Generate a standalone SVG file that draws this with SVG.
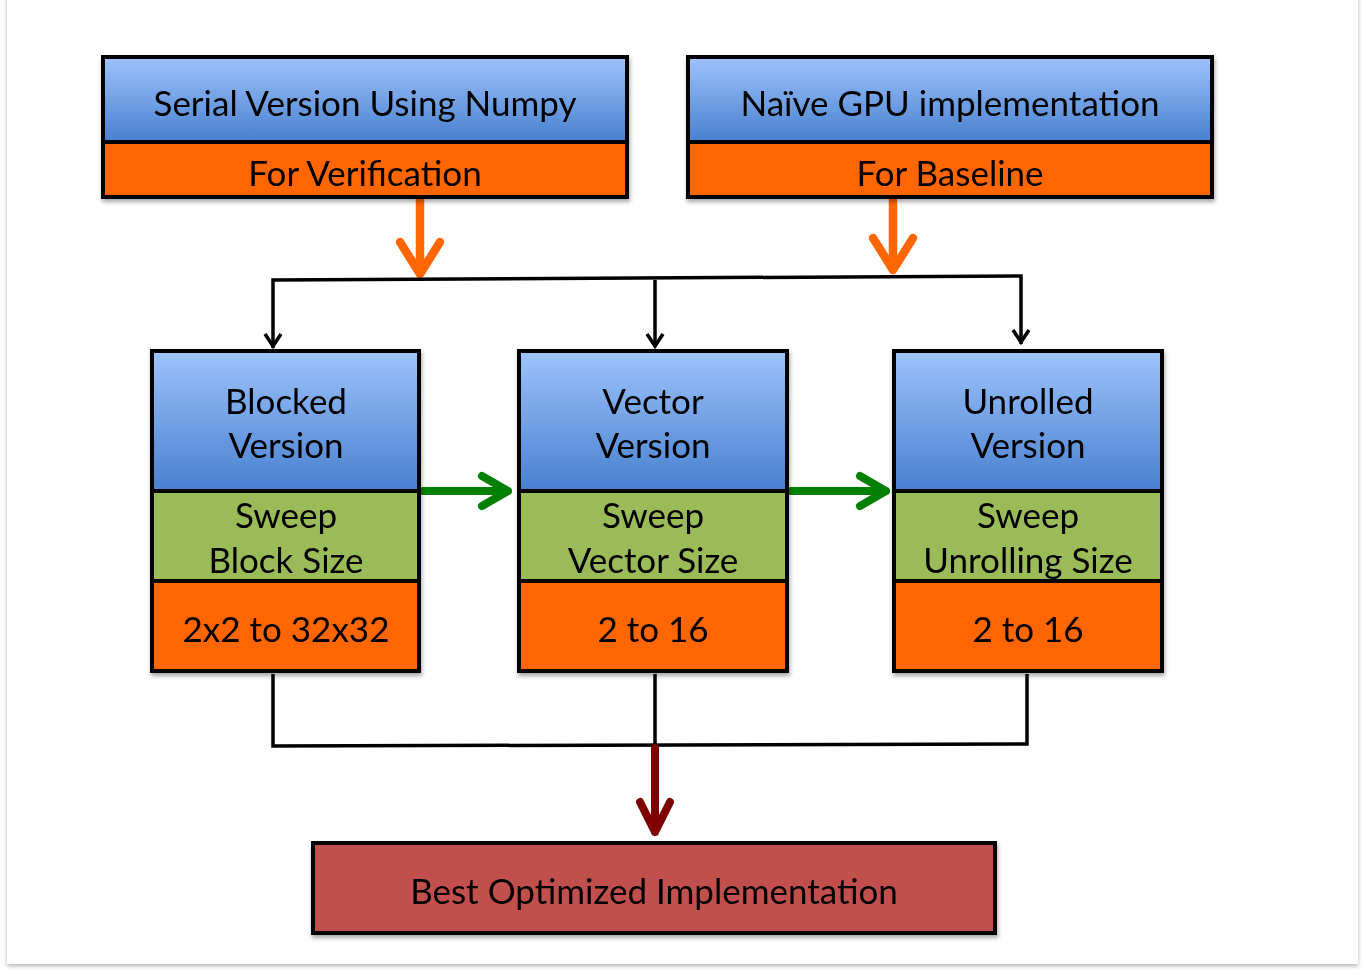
<svg xmlns="http://www.w3.org/2000/svg" width="1366" height="975" viewBox="0 0 1366 975">
<defs>
<linearGradient id="blue" x1="0" y1="0" x2="0" y2="1">
<stop offset="0" stop-color="#9DC3FB"/>
<stop offset="1" stop-color="#4880CF"/>
</linearGradient>
<filter id="sh" x="-5%" y="-5%" width="110%" height="120%">
<feDropShadow dx="1" dy="3" stdDeviation="2" flood-color="#000" flood-opacity="0.35"/>
</filter>
<filter id="pg" x="-2%" y="-2%" width="104%" height="104%">
<feDropShadow dx="0" dy="2" stdDeviation="2" flood-color="#000" flood-opacity="0.3"/>
</filter>
</defs>
<style>
.box{stroke:#000;stroke-width:4;}
.blue{fill:url(#blue);}
.org{fill:#FF6600;}
.grn{fill:#9BBB59;}
.red{fill:#C0504D;}
text{font-family:"Lato","Liberation Sans",sans-serif;font-size:35px;fill:#000;text-anchor:middle;}
.blk{fill:none;stroke:#000;stroke-width:3.5;}
.oa{fill:none;stroke:#FF6600;stroke-width:8.5;stroke-linecap:round;stroke-linejoin:round;}
.ga{fill:none;stroke:#008000;stroke-width:8;stroke-linecap:round;stroke-linejoin:round;}
.ra{fill:none;stroke:#7F0000;stroke-width:8;stroke-linecap:round;stroke-linejoin:round;}
</style>
<rect x="0" y="0" width="1366" height="975" fill="#fff"/>
<rect x="7" y="-10" width="1351" height="974" fill="#fff" filter="url(#pg)"/>

<g id="connectors">
<path class="oa" d="M420,200 V274 M400,242 L420,274 L440,242"/>
<path class="oa" d="M893,200 V270 M873,238 L893,270 L913,238"/>
<path class="blk" d="M273,348 V280 L1021,276 V344"/>
<path class="blk" d="M655,280 V347"/>
<path class="blk" d="M265,334 L273,346 L281,334 M647,334 L655,346 L663,334 M1013,330 L1021,342 L1029,330"/>
<path class="ga" d="M423,491 H508 M482,476 L508,491 L482,506"/>
<path class="ga" d="M791,491 H886 M860,476 L886,491 L860,506"/>
<path class="blk" d="M273,674 V746 L1027,744 V674 M655,674 V745"/>
<path class="ra" d="M655,748 V832 M640,802 L655,832 L670,802"/>
</g>

<g id="serial" filter="url(#sh)">
<rect class="box blue" x="103" y="57" width="524" height="85"/>
<rect class="box org" x="103" y="142" width="524" height="55"/>
<text x="365" y="116">Serial Version Using Numpy</text>
<text x="365" y="186">For Verification</text>
</g>
<g id="naive" filter="url(#sh)">
<rect class="box blue" x="688" y="57" width="524" height="85"/>
<rect class="box org" x="688" y="142" width="524" height="55"/>
<text x="950" y="116">Naïve GPU implementation</text>
<text x="950" y="186">For Baseline</text>
</g>

<g id="blocked" filter="url(#sh)">
<rect class="box blue" x="152" y="351" width="267" height="140"/>
<rect class="box grn" x="152" y="491" width="267" height="90"/>
<rect class="box org" x="152" y="581" width="267" height="90"/>
<text x="286" y="414">Blocked</text>
<text x="286" y="458">Version</text>
<text x="286" y="528">Sweep</text>
<text x="286" y="573">Block Size</text>
<text x="286" y="642">2x2 to 32x32</text>
</g>
<g id="vector" filter="url(#sh)">
<rect class="box blue" x="519" y="351" width="268" height="140"/>
<rect class="box grn" x="519" y="491" width="268" height="90"/>
<rect class="box org" x="519" y="581" width="268" height="90"/>
<text x="653" y="414">Vector</text>
<text x="653" y="458">Version</text>
<text x="653" y="528">Sweep</text>
<text x="653" y="573">Vector Size</text>
<text x="653" y="642">2 to 16</text>
</g>
<g id="unrolled" filter="url(#sh)">
<rect class="box blue" x="894" y="351" width="268" height="140"/>
<rect class="box grn" x="894" y="491" width="268" height="90"/>
<rect class="box org" x="894" y="581" width="268" height="90"/>
<text x="1028" y="414">Unrolled</text>
<text x="1028" y="458">Version</text>
<text x="1028" y="528">Sweep</text>
<text x="1028" y="573">Unrolling Size</text>
<text x="1028" y="642">2 to 16</text>
</g>

<g id="best" filter="url(#sh)">
<rect class="box red" x="313" y="843" width="682" height="90"/>
<text x="654" y="904">Best Optimized Implementation</text>
</g>
</svg>
